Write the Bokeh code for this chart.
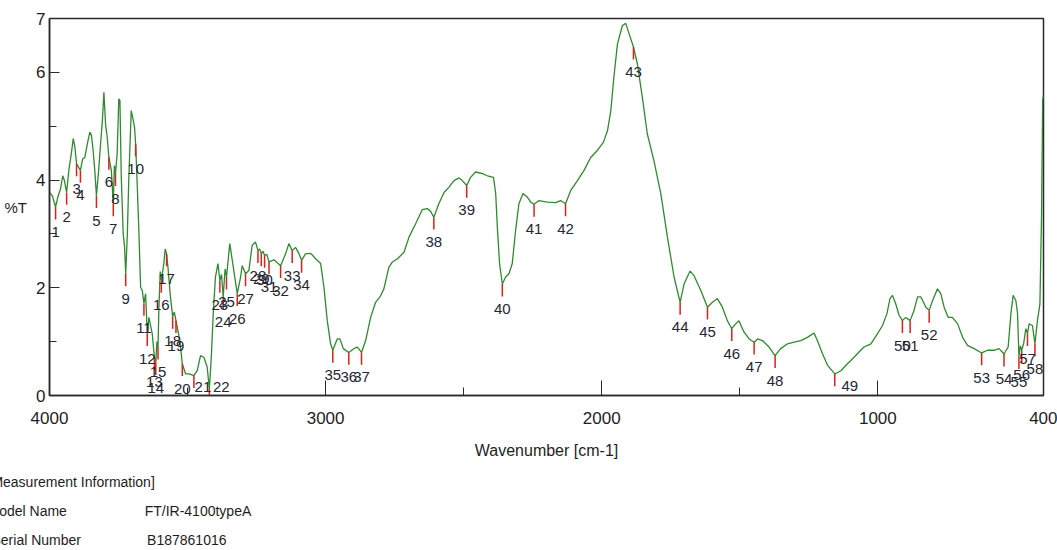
from bokeh.plotting import figure
from bokeh.models import Range1d, FixedTicker, Title
from bokeh.core.properties import value
from bokeh.embed import file_html
from bokeh.resources import INLINE
import numpy as np

# ---- spectrum (wavenumber in cm-1, transmittance in %T) ----
wavenumber = [
    4000, 3990, 3978, 3970, 3960, 3952, 3946, 3938, 3930, 3921, 3914, 3908, 3902, 3895,
    3888, 3880, 3872, 3863, 3854, 3848, 3842, 3836, 3830, 3822, 3815, 3808, 3803, 3797,
    3791, 3785, 3776, 3769, 3765, 3761, 3755, 3749, 3745, 3740, 3733, 3728, 3724, 3718,
    3713, 3704, 3699, 3692, 3688, 3682, 3676, 3670, 3664, 3658, 3652, 3646, 3640, 3628,
    3620, 3615, 3611, 3607, 3604, 3599, 3595, 3586, 3581, 3576, 3571, 3562, 3554, 3548,
    3542, 3528, 3519, 3507, 3495, 3477, 3465, 3453, 3441, 3429, 3421, 3414, 3407, 3399,
    3390, 3383, 3377, 3371, 3364, 3359, 3347, 3338, 3320, 3308, 3302, 3290, 3278, 3266,
    3254, 3245, 3239, 3233, 3227, 3221, 3213, 3205, 3187, 3163, 3145, 3133, 3121, 3109,
    3097, 3087, 3073, 3054, 3036, 3018, 3006, 2994, 2982, 2974, 2958, 2948, 2936, 2916,
    2898, 2885, 2870, 2855, 2837, 2819, 2803, 2789, 2771, 2758, 2740, 2716, 2698, 2674,
    2650, 2632, 2620, 2608, 2590, 2571, 2553, 2535, 2517, 2505, 2489, 2475, 2457, 2432,
    2414, 2392, 2384, 2378, 2370, 2360, 2348, 2336, 2324, 2312, 2300, 2285, 2269, 2257,
    2245, 2227, 2197, 2167, 2149, 2131, 2112, 2088, 2064, 2040, 2016, 1994, 1979, 1967,
    1956, 1943, 1925, 1913, 1901, 1885, 1871, 1853, 1835, 1811, 1786, 1762, 1738, 1716,
    1702, 1680, 1666, 1641, 1617, 1599, 1581, 1563, 1545, 1529, 1515, 1503, 1485, 1466,
    1448, 1436, 1418, 1394, 1372, 1352, 1327, 1303, 1279, 1255, 1231, 1219, 1200, 1182,
    1156, 1134, 1110, 1086, 1062, 1050, 1025, 1001, 983, 967, 956, 947, 935, 923,
    911, 899, 883, 869, 856, 844, 826, 814, 802, 784, 772, 760, 745, 730,
    711, 693, 675, 651, 624, 603, 579, 561, 543, 528, 518, 510, 500, 494,
    489, 484, 479, 472, 464, 458, 452, 440, 431, 422, 413, 407, 403, 400,
]
transmittance = [
    3.77, 3.71, 3.50, 3.68, 3.84, 4.08, 3.99, 3.77, 4.18, 4.49, 4.77, 4.61, 4.30, 4.24,
    4.18, 4.39, 4.42, 4.67, 4.89, 4.83, 4.55, 4.18, 3.71, 4.18, 4.67, 5.14, 5.63, 5.04,
    4.80, 4.42, 4.18, 3.56, 4.27, 4.12, 4.49, 5.51, 5.48, 4.05, 3.00, 2.75, 2.26, 3.01,
    3.99, 5.29, 5.17, 4.98, 4.67, 3.87, 3.01, 2.01, 1.95, 1.71, 1.89, 1.15, 1.45, 1.15,
    0.71, 0.61, 1.00, 0.90, 1.58, 2.30, 2.14, 2.45, 2.72, 2.63, 2.38, 1.83, 1.47, 1.55,
    1.39, 1.02, 0.59, 0.40, 0.40, 0.37, 0.46, 0.74, 0.71, 0.53, 0.12, 0.71, 1.52, 2.20,
    2.45, 2.14, 2.25, 1.83, 2.35, 2.20, 2.82, 2.51, 1.89, 2.20, 2.41, 2.26, 2.32, 2.79,
    2.85, 2.69, 2.72, 2.63, 2.68, 2.60, 2.62, 2.48, 2.52, 2.41, 2.63, 2.82, 2.69, 2.75,
    2.64, 2.51, 2.63, 2.64, 2.54, 2.45, 2.01, 1.39, 0.96, 0.84, 1.05, 1.05, 0.87, 0.80,
    0.87, 0.90, 0.80, 1.02, 1.45, 1.73, 1.83, 1.98, 2.38, 2.48, 2.54, 2.66, 2.94, 3.19,
    3.45, 3.47, 3.42, 3.31, 3.56, 3.77, 3.87, 3.99, 4.04, 3.99, 3.90, 4.05, 4.15, 4.12,
    4.08, 4.05, 3.75, 3.12, 2.45, 2.07, 2.20, 2.26, 2.45, 3.06, 3.56, 3.75, 3.68, 3.59,
    3.55, 3.62, 3.59, 3.58, 3.62, 3.56, 3.81, 3.99, 4.18, 4.42, 4.55, 4.70, 4.92, 5.29,
    5.91, 6.53, 6.87, 6.91, 6.72, 6.47, 6.16, 5.54, 4.86, 4.36, 3.75, 2.94, 2.20, 1.73,
    2.07, 2.31, 2.23, 1.95, 1.64, 1.73, 1.80, 1.64, 1.39, 1.24, 1.33, 1.39, 1.18, 1.05,
    0.99, 1.05, 1.02, 0.90, 0.74, 0.87, 0.96, 0.99, 1.02, 1.08, 1.16, 1.02, 0.77, 0.56,
    0.40, 0.46, 0.59, 0.71, 0.84, 0.90, 0.96, 1.15, 1.30, 1.52, 1.80, 1.86, 1.70, 1.49,
    1.39, 1.45, 1.39, 1.58, 1.83, 1.83, 1.64, 1.58, 1.76, 1.98, 1.89, 1.64, 1.45, 1.45,
    1.33, 1.08, 0.93, 0.87, 0.79, 0.84, 0.84, 0.87, 0.77, 0.90, 1.52, 1.86, 1.76, 1.52,
    0.72, 0.92, 0.84, 0.96, 1.24, 1.15, 1.33, 1.30, 0.96, 1.39, 1.70, 3.37, 5.48, 5.57,
]

# ---- picked peaks (numbered 1..58) ----
peak_wn = [
    3978, 3938, 3902, 3888, 3830, 3785, 3769, 3761, 3724, 3688,
    3658, 3646, 3620, 3615, 3607, 3595, 3576, 3554, 3542, 3519,
    3477, 3421, 3383, 3371, 3359, 3320, 3290, 3245, 3233, 3221,
    3205, 3163, 3121, 3087, 2974, 2916, 2870, 2608, 2489, 2360,
    2245, 2131, 1885, 1716, 1617, 1529, 1448, 1372, 1156, 911,
    883, 814, 624, 543, 489, 479, 458, 431,
]
peak_no = [str(i + 1) for i in range(len(peak_wn))]
peak_t = [transmittance[wavenumber.index(w)] for w in peak_wn]

# ---- axes ----
x_major = [4000, 3000, 2000, 1000, 400]
x_minor = [3500, 2500, 1500]
y_major = [0, 2, 4, 6, 7]
y_minor = [1, 3, 5]
x_title = "Wavenumber [cm-1]"
y_title = "%T"

info_title = "[Measurement Information]"
info_keys = ["Model Name", "Serial Number"]
info_values = ["FT/IR-4100typeA", "B187861016"]

# ---- layout ----
W, H = 1057, 550
LEFT, RIGHT, TOP, BOTTOM = 49, 14, 18, 155
FONT = "Liberation Sans"
INK = "#1e1e1e"

# numbers sitting too close to the baseline are nudged (screen px) so they stay visible
label_nudge = {21: (9, -14), 22: (12, -27), 49: (15, -13)}

p = figure(
    width=W, height=H,
    x_range=Range1d(4000, 400), y_range=Range1d(0, 7),
    output_backend="svg", toolbar_location=None,
    min_border_left=LEFT, min_border_right=RIGHT,
    min_border_top=TOP, min_border_bottom=BOTTOM,
)
p.xgrid.visible = False
p.ygrid.visible = False
p.outline_line_color = "#2a2a2a"
p.outline_line_width = 1.5
p.background_fill_color = "white"
p.border_fill_color = "white"

for ax in (p.xaxis[0], p.yaxis[0]):
    ax.axis_line_color = "#2a2a2a"
    ax.axis_line_width = 1.5
    ax.major_tick_line_color = "#2a2a2a"
    ax.minor_tick_line_color = "#2a2a2a"
    ax.major_tick_out = 0
    ax.minor_tick_out = 0
    ax.major_label_text_font = FONT
    ax.major_label_text_color = INK
    ax.major_label_text_font_size = "17px"
    ax.axis_label_text_font = FONT
    ax.axis_label_text_font_style = "normal"
    ax.axis_label_text_color = INK

p.xaxis.ticker = FixedTicker(ticks=x_major, minor_ticks=x_minor)
p.xaxis.major_tick_in = 15
p.xaxis.minor_tick_in = 8
p.xaxis.major_label_standoff = 16

p.yaxis.ticker = FixedTicker(ticks=y_major, minor_ticks=y_minor)
p.yaxis.major_tick_in = 10
p.yaxis.minor_tick_in = 7
p.yaxis.major_label_standoff = 4
p.yaxis.axis_label = y_title
p.yaxis.axis_label_orientation = "horizontal"
p.yaxis.axis_label_text_font_size = "15px"
p.yaxis.axis_label_standoff = 6

# spectrum trace
p.line(wavenumber, transmittance, line_color="#2f8a2f", line_width=1.3)

# peak picks: short red tick hanging from the trace, number underneath
tick_len = 0.23
p.segment(x0=peak_wn, y0=peak_t, x1=peak_wn, y1=list(np.array(peak_t) - tick_len),
          line_color="#d9211c", line_width=1.5)
dx = [label_nudge.get(i + 1, (0, 0))[0] for i in range(len(peak_wn))]
dy = [25 + label_nudge.get(i + 1, (0, 0))[1] for i in range(len(peak_wn))]
p.text(x=peak_wn, y=peak_t, text=peak_no, x_offset=dx, y_offset=dy,
       text_align="center", text_baseline="middle",
       text_font=value(FONT), text_font_size="15px", text_color="#262633")

# text stacked under the x axis: its title, then the measurement information block
NB = "\u00a0"
below_rows = [
    # text, align, horizontal offset, font size, gap
    (x_title, "center", 0, "16px", 26),
    (info_title, "left", -62, "14px", 1),
    (info_keys[0] + NB * 20 + info_values[0], "left", -62, "14px", 21),
    (info_keys[1] + NB * 17 + info_values[1], "left", -58, "14px", 1),
]
for text, align, off, size, gap in below_rows:
    p.add_layout(Title(text=text, align=align, offset=off, standoff=gap,
                       text_font=FONT, text_font_size=size,
                       text_font_style="normal", text_color=INK), "below")

open("out.html", "w").write(file_html(p, INLINE))
